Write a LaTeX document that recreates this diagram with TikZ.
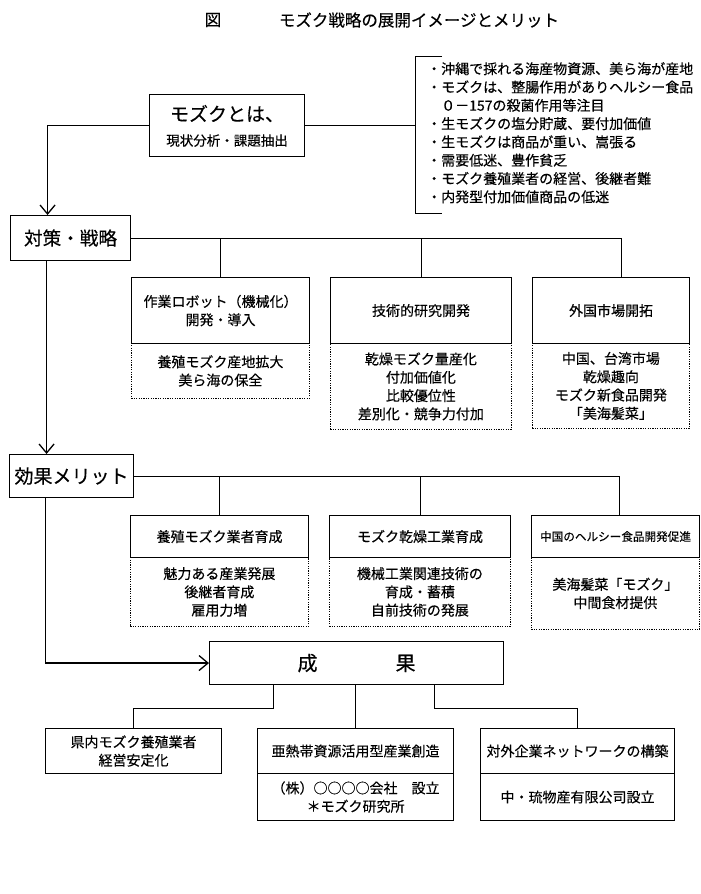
\documentclass[tikz,border=0pt]{standalone}
\usepackage{fontspec}
\newfontfamily\jp[FakeBold=0.3]{Noto Sans CJK JP}
\usetikzlibrary{arrows.meta}
\begin{document}
\begin{tikzpicture}[x=1pt,y=-1pt,
  txt/.style={font=\jp\fontsize{14}{18.3}\selectfont, inner sep=0pt, align=center},
  hdr/.style={draw, line width=1.1pt, inner sep=0pt, align=center, anchor=north west, font=\jp\fontsize{14}{18.3}\selectfont},
  bodyd/.style={draw, line width=0.8pt, dash pattern=on 1.2pt off 1.2pt, inner sep=0pt, align=center, anchor=north west, font=\jp\fontsize{14}{18.3}\selectfont},
  bodys/.style={draw, line width=1.1pt, inner sep=0pt, align=center, anchor=north west, font=\jp\fontsize{14}{18.3}\selectfont},
  big/.style={font=\jp\fontsize{19}{22}\selectfont},
  conn/.style={line width=0.8pt},
  flow/.style={line width=1.4pt},
  arr/.style={-{Straight Barb[length=9pt,width=15pt,line width=1.3pt]}}
]
\useasboundingbox (0,0) rectangle (701,894);

% title
\node[txt, font=\jp\fontsize{16.5}{20}\selectfont] (fig) at (213,20) {図};
\node[txt, font=\jp\fontsize{16.5}{20}\selectfont] (title) at (419,20) {モズク戦略の展開イメージとメリット};

% top box
\node[hdr, minimum width=155pt, minimum height=62pt] (moz) at (149,94) {};
\node[txt, big] (moz1) at ([yshift=12pt]moz.center) {モズクとは、};
\node[txt, font=\jp\fontsize{13.5}{16}\selectfont] (moz2) at ([yshift=-15pt]moz.center) {現状分析・課題抽出};

% bracket list
\coordinate (brT) at (415,56);
\coordinate (brB) at (415,213);
\draw[conn] ([xshift=27pt]brT) -- (brT) -- (brB) -- ([xshift=27pt]brB);
\draw[conn] (moz.east) -- (moz.east -| brT);
\node[txt, align=left, anchor=north west] (list) at (427,62) {・沖縄で採れる海産物資源、美ら海が産地\\
・モズクは、整腸作用がありヘルシー食品\\
　０－157の殺菌作用等注目\\
・生モズクの塩分貯蔵、要付加価値\\
・生モズクは商品が重い、嵩張る\\
・需要低迷、豊作貧乏\\
・モズク養殖業者の経営、後継者難\\
・内発型付加価値商品の低迷};

% taisaku
\node[hdr, big, minimum width=120pt, minimum height=45pt, font=\jp\fontsize{18.6}{22}\selectfont] (tai) at (10,215) {対策・戦略};
\draw[flow, arr] (moz.west) -| ([xshift=-23pt]tai.north);

% row 1
\node[bodyd, minimum width=178pt, minimum height=55pt] (a1b) at (131,343) {養殖モズク産地拡大\\美ら海の保全};
\node[hdr, minimum width=178pt, minimum height=66pt, fill=white] (a1) at (131,277) {作業ロボット（機械化）\\開発・導入};
\node[bodyd, minimum width=181pt, minimum height=86pt] (b1b) at (330,343) {乾燥モズク量産化\\付加価値化\\比較優位性\\差別化・競争力付加};
\node[hdr, minimum width=181pt, minimum height=66pt, fill=white] (b1) at (330,277) {技術的研究開発};
\node[bodyd, minimum width=157pt, minimum height=85pt] (c1b) at (532,343) {中国、台湾市場\\乾燥趣向\\モズク新食品開発\\「美海髪菜」};
\node[hdr, minimum width=157pt, minimum height=66pt, fill=white] (c1) at (532,277) {外国市場開拓};

\coordinate (c1top) at ([xshift=10pt]c1.north);
\draw[conn] (tai.east) -- (tai.east -| c1top) -- (c1top);
\draw[conn] (tai.east -| a1.north) -- (a1.north);
\draw[conn] (tai.east -| b1.north) -- (b1.north);

% kouka
\node[hdr, minimum width=124pt, minimum height=43pt, font=\jp\fontsize{19}{22}\selectfont] (kou) at (9,454) {効果メリット};
\draw[flow, arr] ([xshift=-24pt]tai.south) -- ([xshift=-25pt]kou.north);

% row 2
\node[bodyd, minimum width=178pt, minimum height=69pt] (a2b) at (130,557) {魅力ある産業発展\\後継者育成\\雇用力増};
\node[hdr, minimum width=178pt, minimum height=42pt, fill=white] (a2) at (130,515) {養殖モズク業者育成};
\node[bodyd, minimum width=181pt, minimum height=69pt] (b2b) at (329,557) {機械工業関連技術の\\育成・蓄積\\自前技術の発展};
\node[hdr, minimum width=181pt, minimum height=42pt, fill=white] (b2) at (329,515) {モズク乾燥工業育成};
\node[bodyd, minimum width=168pt, minimum height=72pt] (c2b) at (531,557) {美海髪菜「モズク」\\中間食材提供};
\node[hdr, minimum width=168pt, minimum height=42pt, fill=white, font=\jp\fontsize{11.6}{14}\selectfont] (c2) at (531,515) {中国のヘルシー食品開発促進};

\coordinate (c2top) at ([xshift=4pt]c2.north);
\draw[conn] (kou.east) -- (kou.east -| c2top) -- (c2top);
\draw[conn] (kou.east -| a2.north) -- (a2.north);
\draw[conn] (kou.east -| b2.north) -- (b2.north);

% seika
\node[hdr, minimum width=294pt, minimum height=43pt, font=\jp\fontsize{20}{24}\selectfont] (sei) at (209,641) {成\hspace{78pt}果};
\draw[flow, arr] ([xshift=-26pt]kou.south) |- (sei.west);

% bottom row
\node[hdr, minimum width=176pt, minimum height=45pt] (d1) at (45,728) {県内モズク養殖業者\\経営安定化};
\node[bodys, minimum width=196pt, minimum height=47pt] (d2b) at (257,773) {（株）○○○○会社　設立\\＊モズク研究所};
\node[hdr, minimum width=196pt, minimum height=45pt] (d2) at (257,728) {亜熱帯資源活用型産業創造};
\node[bodys, minimum width=194pt, minimum height=47pt] (d3b) at (480,773) {中・琉物産有限公司設立};
\node[hdr, minimum width=194pt, minimum height=45pt] (d3) at (480,728) {対外企業ネットワークの構築};

\draw[conn] ([xshift=-83pt]sei.south) -- ++(0,23) -| (d1.north);
\draw[conn] (d2.north |- sei.south) -- (d2.north);
\draw[conn] ([xshift=78pt]sei.south) -- ++(0,23) -| (d3.north);
\end{tikzpicture}
\end{document}
